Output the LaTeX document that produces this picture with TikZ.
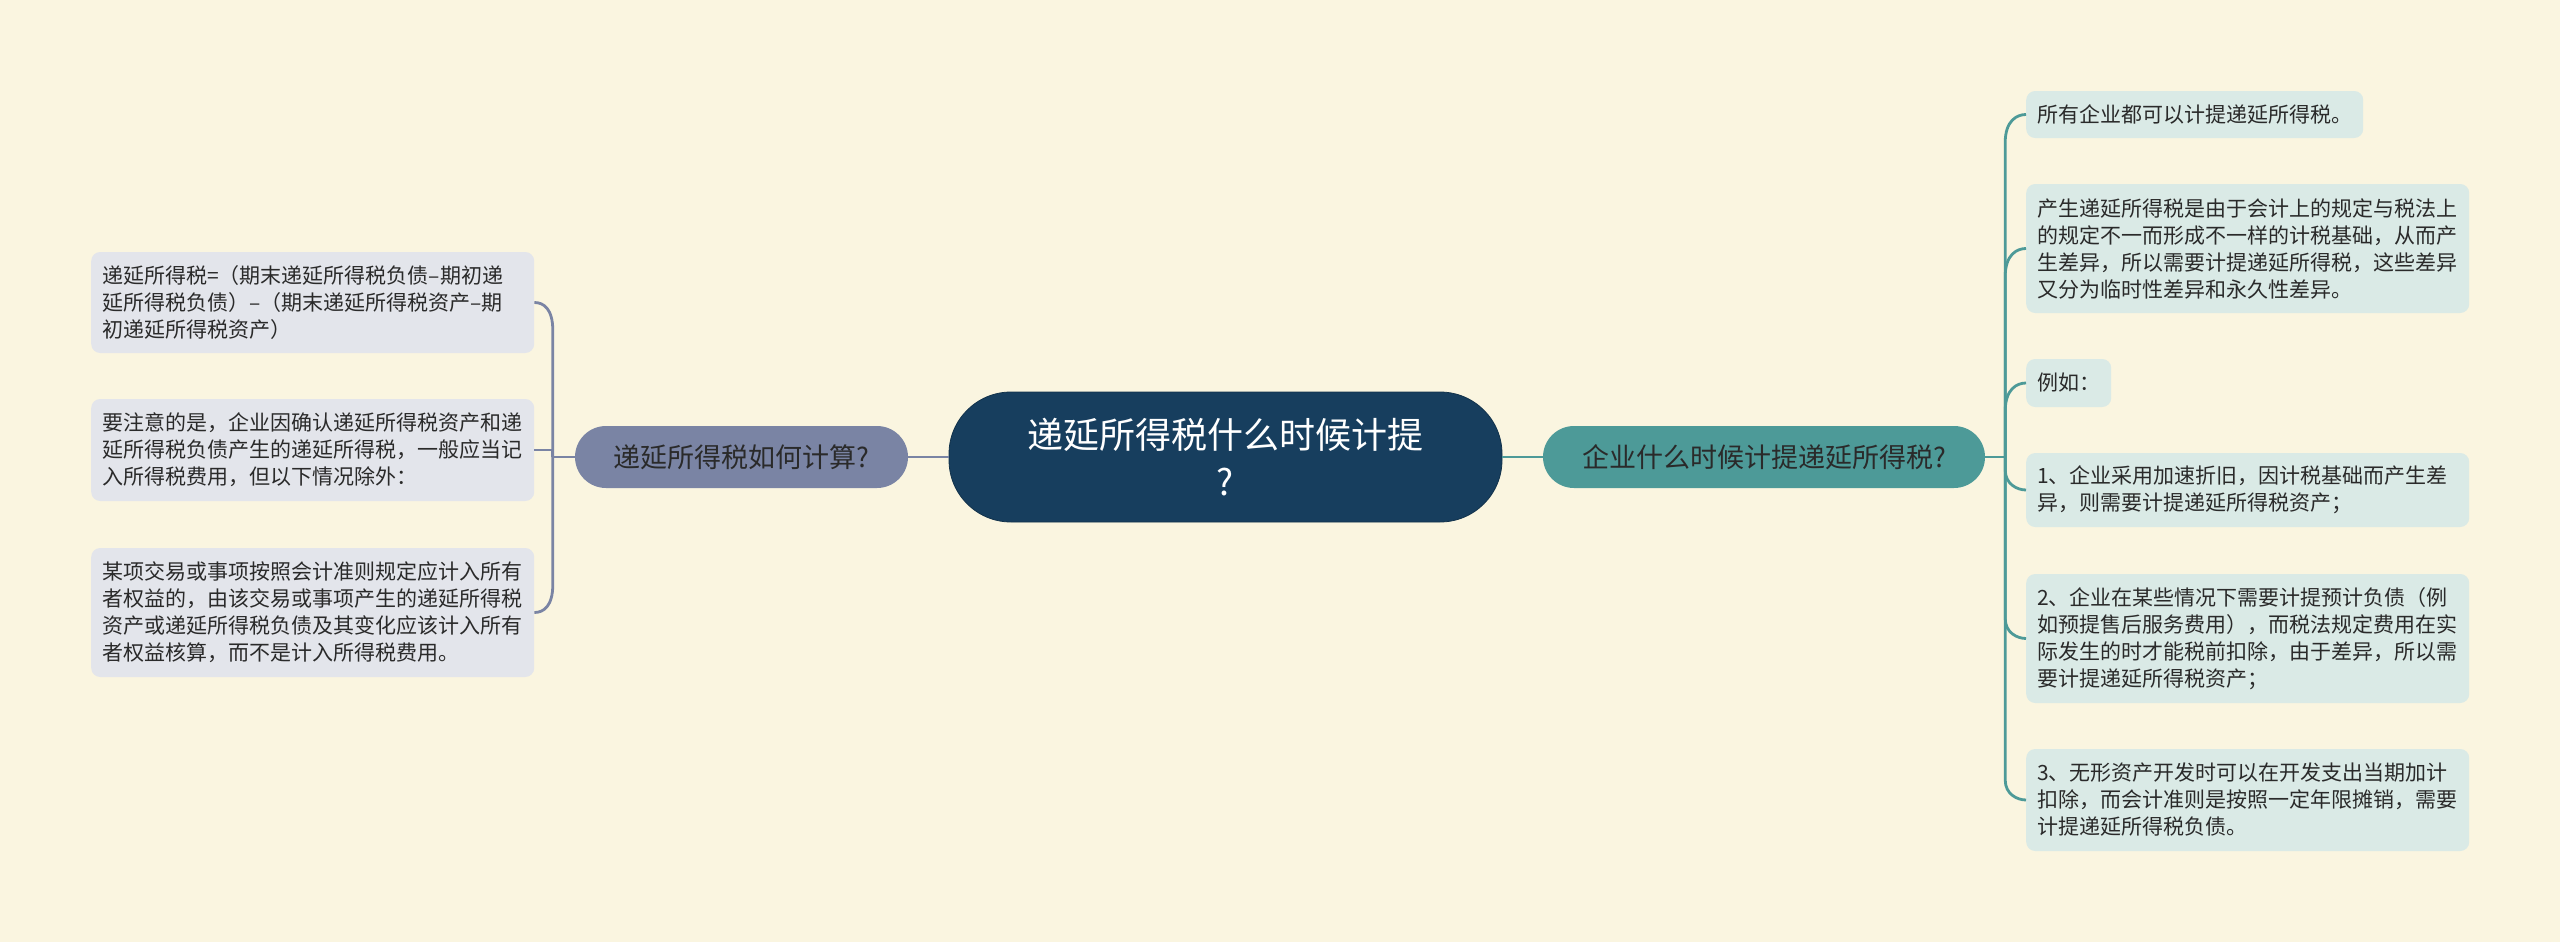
\documentclass[tikz,border=0pt]{standalone}
\usepackage{fontspec}
\newfontfamily\cjk{Noto Sans CJK SC}
\definecolor{bgc}{HTML}{FAF5E0}
\definecolor{centerc}{HTML}{173E5E}
\definecolor{lbc}{HTML}{7A84A4}
\definecolor{rbc}{HTML}{4D9A98}
\definecolor{lleafc}{HTML}{E3E5EB}
\definecolor{rleafc}{HTML}{DAEAE6}
\definecolor{txtc}{HTML}{2A2A2A}
\begin{document}
\begin{tikzpicture}[x=1pt,y=-1pt,
  centerbox/.style={fill=centerc, draw=centerc!80!black, line width=0.8pt, rounded corners=62pt,
    minimum width=553pt, minimum height=130pt, align=center, text=white,
    font={\cjk\fontsize{36}{47}\selectfont}},
  branchbox/.style={rounded corners=31pt, minimum height=62pt, text=txtc, align=center,
    font={\cjk\fontsize{27}{32}\selectfont}},
  leafbox/.style={rounded corners=9pt, anchor=west, text=txtc, align=left,
    inner xsep=11pt, inner ysep=0pt,
    font={\cjk\fontsize{21}{27}\selectfont}},
  wideleaf/.style={leafbox, text width=421pt},
  lleaf/.style={fill=lleafc},
  rleaf/.style={fill=rleafc},
  lconn/.style={draw=lbc, line width=2.8pt},
  rconn/.style={draw=rbc, line width=2.8pt}]
\fill[bgc] (0,0) rectangle (2560,942);
\useasboundingbox (0,0) rectangle (2560,942);

% center and branches
\node[centerbox] (c) at (1225.5,457) {递延所得税什么时候计提\\?};
\node[branchbox, fill=lbc, minimum width=333pt] (lb) at (741.5,457) {递延所得税如何计算?};
\node[branchbox, fill=rbc, minimum width=442pt] (rb) at (1764,457) {企业什么时候计提递延所得税?};

% left leaves
\node[wideleaf, lleaf, minimum height=101pt] (L1) at (91,302.5)
  {递延所得税=（期末递延所得税负债–期初递\\延所得税负债）–（期末递延所得税资产–期\\初递延所得税资产）};
\node[wideleaf, lleaf, minimum height=102pt] (L2) at (91,450)
  {要注意的是，企业因确认递延所得税资产和递\\延所得税负债产生的递延所得税，一般应当记\\入所得税费用，但以下情况除外：};
\node[wideleaf, lleaf, minimum height=129pt] (L3) at (91,612.5)
  {某项交易或事项按照会计准则规定应计入所有\\者权益的，由该交易或事项产生的递延所得税\\资产或递延所得税负债及其变化应该计入所有\\者权益核算，而不是计入所得税费用。};

% right leaves
\node[leafbox, rleaf, minimum height=47pt] (R1) at (2026,114.5) {所有企业都可以计提递延所得税。};
\node[wideleaf, rleaf, minimum height=129pt] (R2) at (2026,248.5)
  {产生递延所得税是由于会计上的规定与税法上\\的规定不一而形成不一样的计税基础，从而产\\生差异，所以需要计提递延所得税，这些差异\\又分为临时性差异和永久性差异。};
\node[leafbox, rleaf, minimum height=48pt] (R3) at (2026,383) {例如：};
\node[wideleaf, rleaf, minimum height=74pt] (R4) at (2026,490)
  {1、企业采用加速折旧，因计税基础而产生差\\异，则需要计提递延所得税资产；};
\node[wideleaf, rleaf, minimum height=129pt] (R5) at (2026,638.5)
  {2、企业在某些情况下需要计提预计负债（例\\如预提售后服务费用），而税法规定费用在实\\际发生的时才能税前扣除，由于差异，所以需\\要计提递延所得税资产；};
\node[wideleaf, rleaf, minimum height=102pt] (R6) at (2026,800)
  {3、无形资产开发时可以在开发支出当期加计\\扣除，而会计准则是按照一定年限摊销，需要\\计提递延所得税负债。};

% center connectors
\draw[lconn] (c.west) -- (lb.east);
\draw[rconn] (c.east) -- (rb.west);

% left connectors
\coordinate (lj) at ([xshift=-22pt]lb.west);
\draw[lconn] (lb.west) -- (lj);
\draw[lconn] (lj) -- ([yshift=-28pt]lj |- L1.east) .. controls ([yshift=-6pt]lj |- L1.east) and ([xshift=9pt]L1.east) .. (L1.east);
\draw[lconn] (lj) -- (lj |- L2.east) -- (L2.east);
\draw[lconn] (lj) -- ([yshift=28pt]lj |- L3.east) .. controls ([yshift=6pt]lj |- L3.east) and ([xshift=9pt]L3.east) .. (L3.east);

% right connectors
\coordinate (rj) at ([xshift=20pt]rb.east);
\draw[rconn] (rb.east) -- (rj);
\foreach \n in {R1,R2,R3} {
  \draw[rconn] (rj) -- ([yshift=-28pt]rj |- \n.west) .. controls ([yshift=-6pt]rj |- \n.west) and ([xshift=-9pt]\n.west) .. (\n.west);
}
\foreach \n in {R4,R5,R6} {
  \draw[rconn] (rj) -- ([yshift=20pt]rj |- \n.west) .. controls ([yshift=6pt]rj |- \n.west) and ([xshift=-9pt]\n.west) .. (\n.west);
}
\end{tikzpicture}
\end{document}
